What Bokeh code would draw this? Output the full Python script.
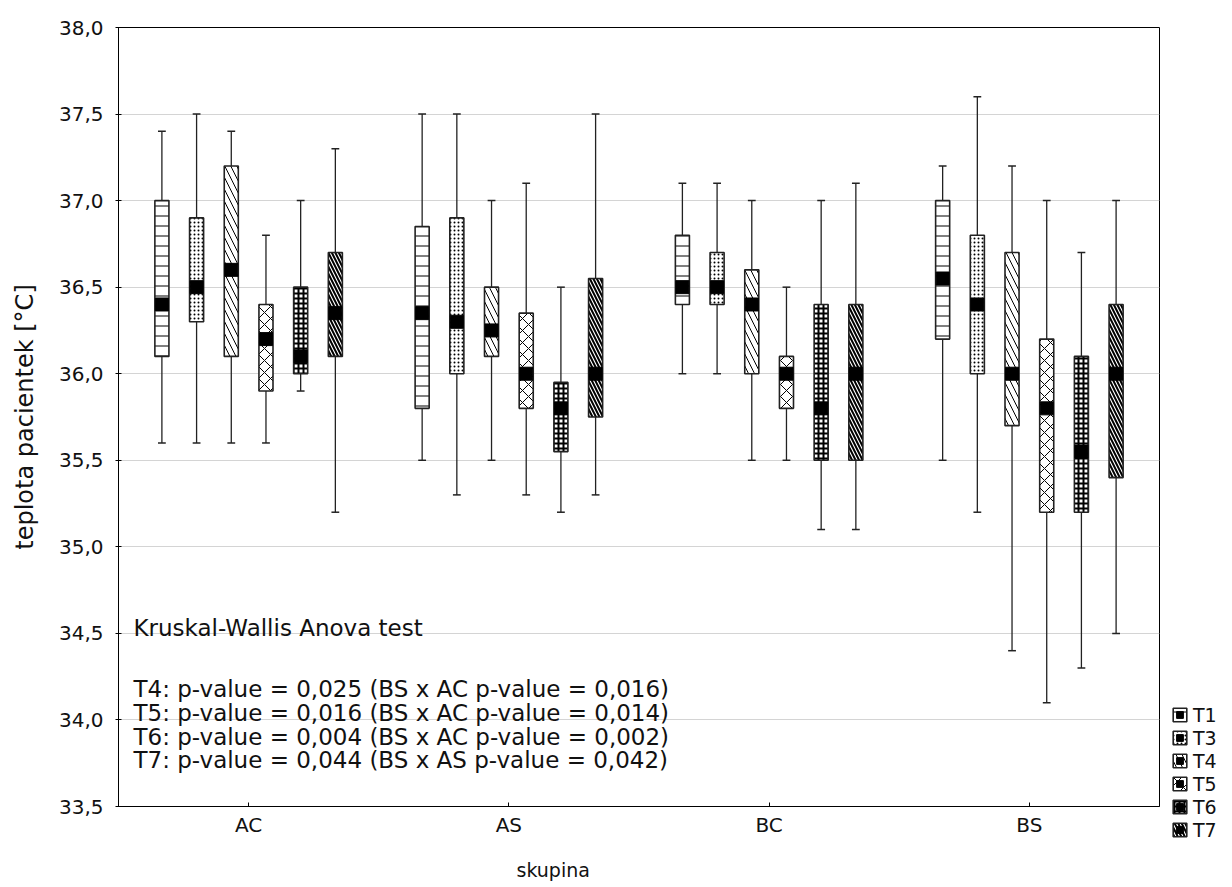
import numpy as np
from bokeh.plotting import figure
from bokeh.models import FixedTicker, Legend, LegendItem, Label, Range1d, Title
from bokeh.embed import file_html
from bokeh.resources import INLINE

groups = ["AC", "AS", "BC", "BS"]
series = ["T1", "T3", "T4", "T5", "T6", "T7"]
y_ticks = [33.5, 34.0, 34.5, 35.0, 35.5, 36.0, 36.5, 37.0, 37.5, 38.0]
y_tick_labels = ["33,5", "34,0", "34,5", "35,0", "35,5", "36,0", "36,5", "37,0", "37,5", "38,0"]

# values per series, in group order AC, AS, BC, BS
w_min = {
    "T1": [35.6, 35.5, 36.0, 35.5],
    "T3": [35.6, 35.3, 36.0, 35.2],
    "T4": [35.6, 35.5, 35.5, 34.4],
    "T5": [35.6, 35.3, 35.5, 34.1],
    "T6": [35.9, 35.2, 35.1, 34.3],
    "T7": [35.2, 35.3, 35.1, 34.5],
}
q1 = {
    "T1": [36.1, 35.8, 36.4, 36.2],
    "T3": [36.3, 36.0, 36.4, 36.0],
    "T4": [36.1, 36.1, 36.0, 35.7],
    "T5": [35.9, 35.8, 35.8, 35.2],
    "T6": [36.0, 35.55, 35.5, 35.2],
    "T7": [36.1, 35.75, 35.5, 35.4],
}
median = {
    "T1": [36.4, 36.35, 36.5, 36.55],
    "T3": [36.5, 36.3, 36.5, 36.4],
    "T4": [36.6, 36.25, 36.4, 36.0],
    "T5": [36.2, 36.0, 36.0, 35.8],
    "T6": [36.1, 35.8, 35.8, 35.55],
    "T7": [36.35, 36.0, 36.0, 36.0],
}
q3 = {
    "T1": [37.0, 36.85, 36.8, 37.0],
    "T3": [36.9, 36.9, 36.7, 36.8],
    "T4": [37.2, 36.5, 36.6, 36.7],
    "T5": [36.4, 36.35, 36.1, 36.2],
    "T6": [36.5, 35.95, 36.4, 36.1],
    "T7": [36.7, 36.55, 36.4, 36.4],
}
w_max = {
    "T1": [37.4, 37.5, 37.1, 37.2],
    "T3": [37.5, 37.5, 37.1, 37.6],
    "T4": [37.4, 37.0, 37.0, 37.2],
    "T5": [36.8, 37.1, 36.5, 37.0],
    "T6": [37.0, 36.5, 37.0, 36.7],
    "T7": [37.3, 37.5, 37.1, 37.0],
}
annotation_lines = [
    "Kruskal-Wallis Anova test",
    "T4: p-value = 0,025 (BS x AC p-value = 0,016)",
    "T5: p-value = 0,016 (BS x AC p-value = 0,014)",
    "T6: p-value = 0,004 (BS x AC p-value = 0,002)",
    "T7: p-value = 0,044 (BS x AS p-value = 0,042)",
]
annotation_y = [179, 118, 94, 70, 47]

hatch = {
    "T1": ("horizontal_line", 10, 1.0),
    "T3": ("dot", 4, 1.0),
    "T4": ("left_diagonal_line", 12, 1.0),
    "T5": ("diagonal_cross", 12, 1.0),
    "T6": ("cross", 5, 2.0),
    "T7": ("left_diagonal_line", 7, 2.0),
}

FONT = "DejaVu Sans"
TXT = "#111111"

p = figure(frame_width=1041, frame_height=779, output_backend="svg", toolbar_location=None,
           x_range=Range1d(-0.5, 3.5), y_range=Range1d(33.5, 38.0),
           min_border_left=118, min_border_right=70, min_border_top=27, min_border_bottom=80)
p.outline_line_color = "black"
p.outline_line_width = 1
p.background_fill_color = "white"
p.border_fill_color = "white"

p.xgrid.visible = False
p.ygrid.grid_line_color = "#d4d4d4"
p.ygrid.grid_line_width = 1.2
p.ygrid.ticker = FixedTicker(ticks=y_ticks)

p.yaxis.ticker = FixedTicker(ticks=y_ticks)
p.yaxis.major_label_overrides = {t: l for t, l in zip(y_ticks, y_tick_labels)}
p.yaxis.minor_tick_line_color = None
p.yaxis.major_tick_in = 3
p.yaxis.major_tick_out = 3
p.yaxis.major_label_standoff = 12
p.yaxis.major_label_text_font = FONT
p.yaxis.major_label_text_font_size = "20px"
p.yaxis.major_label_text_color = TXT
p.yaxis.axis_label = "teplota pacientek [°C]"
p.yaxis.axis_label_text_font = FONT
p.yaxis.axis_label_text_font_size = "24px"
p.yaxis.axis_label_text_font_style = "normal"
p.yaxis.axis_label_text_color = TXT
p.yaxis.axis_label_standoff = 17

p.xaxis.ticker = FixedTicker(ticks=list(range(len(groups))))
p.xaxis.major_label_overrides = {i: g for i, g in enumerate(groups)}
p.xaxis.minor_tick_line_color = None
p.xaxis.major_tick_in = 4
p.xaxis.major_tick_out = 0
p.xaxis.major_label_standoff = 6
p.xaxis.major_label_text_font = FONT
p.xaxis.major_label_text_font_size = "20px"
p.xaxis.major_label_text_color = TXT

n = len(series)
spacing = 0.1333
box_w = 0.054
cap_w = 0.03
offsets = (np.arange(n) - (n - 1) / 2) * spacing
base = np.arange(len(groups))

items = []
for k, s in enumerate(series):
    xs = base + offsets[k]
    lo = np.array(w_min[s]); a = np.array(q1[s]); m = np.array(median[s])
    b = np.array(q3[s]); hi = np.array(w_max[s])
    p.segment(x0=xs, y0=b, x1=xs, y1=hi, line_color="#222222", line_width=1.3)
    p.segment(x0=xs, y0=lo, x1=xs, y1=a, line_color="#222222", line_width=1.3)
    p.segment(x0=xs - cap_w / 2, y0=hi, x1=xs + cap_w / 2, y1=hi, line_color="#222222", line_width=1.5)
    p.segment(x0=xs - cap_w / 2, y0=lo, x1=xs + cap_w / 2, y1=lo, line_color="#222222", line_width=1.5)
    pat, sc, wt = hatch[s]
    qr = p.quad(left=xs - box_w / 2, right=xs + box_w / 2, bottom=a, top=b,
                fill_color="white", line_color="#222222", line_width=1.6,
                hatch_pattern=pat, hatch_scale=sc, hatch_weight=wt, hatch_color="black")
    mr = p.scatter(x=xs, y=m, marker="square", size=13, fill_color="black", line_color="black")
    items.append(LegendItem(label=s, renderers=[qr, mr]))

legend = Legend(items=items, location=(12, -35), orientation="vertical",
                glyph_width=17, glyph_height=17, label_text_font=FONT,
                label_text_font_size="19px", label_standoff=5, spacing=0, label_height=23,
                padding=0, margin=0, border_line_color=None, background_fill_alpha=0,
                label_text_color=TXT)
p.add_layout(legend, "right")

for txt, yy in zip(annotation_lines, annotation_y):
    p.add_layout(Label(x=15, y=yy, x_units="screen", y_units="screen", text=txt,
                       text_font=FONT, text_font_size="23px", text_baseline="middle",
                       text_color=TXT))

p.add_layout(Title(text="skupina", align="left", offset=398, standoff=35,
                   text_font=FONT, text_font_size="19px", text_font_style="normal",
                   text_color=TXT), "below")

open("out.html", "w").write(file_html(p, INLINE))
